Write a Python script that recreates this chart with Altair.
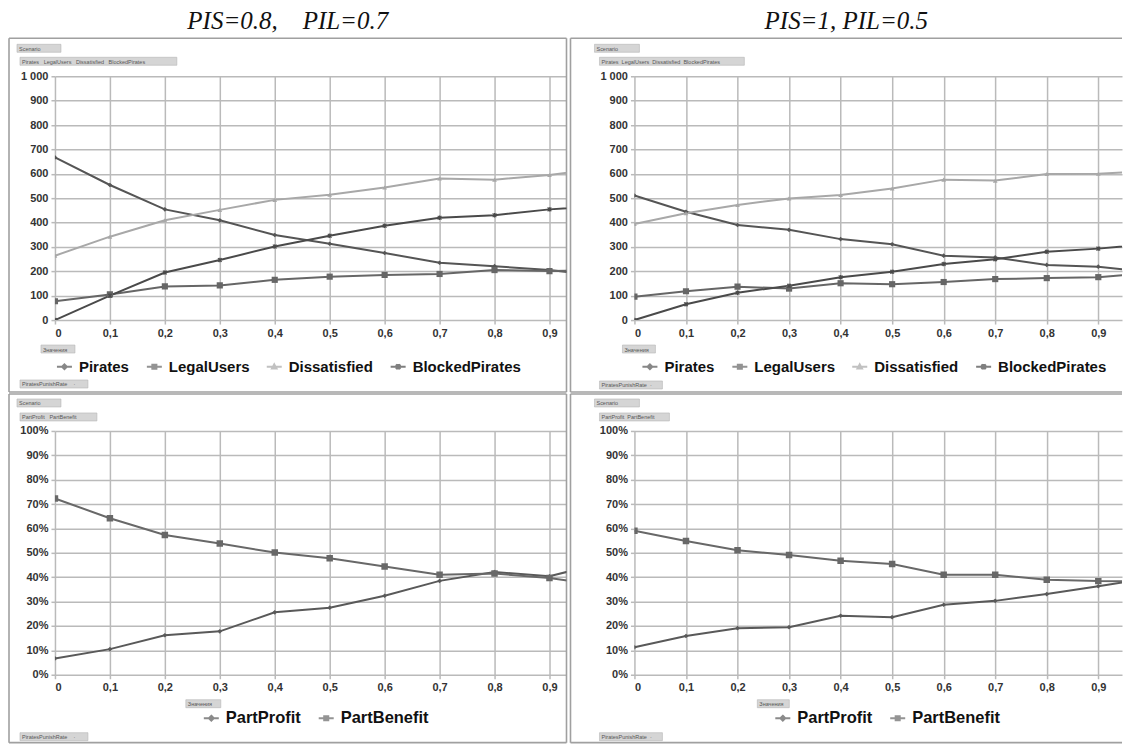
import altair as alt
import pandas as pd

# ---------------- data ----------------
rate = [0.0, 0.1, 0.2, 0.3, 0.4, 0.5, 0.6, 0.7, 0.8, 0.9, 1.0]
rate_ticks = [0.0, 0.1, 0.2, 0.3, 0.4, 0.5, 0.6, 0.7, 0.8, 0.9]
count_ticks = [0, 100, 200, 300, 400, 500, 600, 700, 800, 900, 1000]
share_ticks = [0.0, 0.1, 0.2, 0.3, 0.4, 0.5, 0.6, 0.7, 0.8, 0.9, 1.0]

column_titles = ["PIS=0.8,\u00a0\u00a0\u00a0\u00a0PIL=0.7", "PIS=1, PIL=0.5"]
count_series = ["Pirates", "LegalUsers", "Dissatisfied", "BlockedPirates"]
share_series = ["PartProfit", "PartBenefit"]

# left column: PIS=0.8, PIL=0.7
pirates_1 = [667, 554, 454, 409, 349, 313, 275, 235, 221, 205, 179]
legal_1 = [77, 105, 138, 142, 165, 178, 185, 189, 205, 201, 206]
dissat_1 = [264, 342, 409, 452, 493, 514, 544, 581, 576, 595, 625]
blocked_1 = [0, 100, 195, 246, 302, 346, 387, 420, 430, 454, 468]
profit_1 = [0.067, 0.105, 0.162, 0.178, 0.256, 0.275, 0.324, 0.385, 0.421, 0.404, 0.46]
benefit_1 = [0.723, 0.642, 0.573, 0.538, 0.501, 0.478, 0.444, 0.410, 0.415, 0.397, 0.363]

# right column: PIS=1, PIL=0.5
pirates_2 = [511, 444, 390, 370, 332, 311, 264, 257, 226, 219, 196]
legal_2 = [96, 118, 137, 129, 151, 147, 156, 168, 172, 176, 192]
dissat_2 = [394, 438, 472, 499, 513, 540, 576, 572, 599, 600, 611]
blocked_2 = [0, 65, 112, 141, 176, 198, 230, 249, 280, 293, 313]
profit_2 = [0.113, 0.159, 0.191, 0.195, 0.242, 0.236, 0.287, 0.303, 0.331, 0.363, 0.397]
benefit_2 = [0.591, 0.549, 0.511, 0.491, 0.468, 0.454, 0.410, 0.410, 0.390, 0.384, 0.383]

# ---------------- styles ----------------
FONT = "Liberation Sans"
FRAME = "#a0a0a0"
GRID = "#bababa"
count_colors = ["#555555", "#666666", "#a8a8a8", "#4a4a4a"]
share_colors = ["#595959", "#686868"]

ASTER = "M-1,-1L1,1M-1,1L1,-1M0,-1.2L0,1.2"
markers = {
    "Pirates": dict(shape="diamond", size=22, filled=True),
    "LegalUsers": dict(shape="square", size=38, filled=True),
    "Dissatisfied": dict(shape="triangle-up", size=22, filled=True),
    "BlockedPirates": dict(shape=ASTER, size=14, filled=False, strokeWidth=1.1),
    "PartProfit": dict(shape="diamond", size=22, filled=True),
    "PartBenefit": dict(shape="square", size=42, filled=True),
}
LINE = "M-1,0L1,0"
legend_paths = {
    "Pirates": LINE + "M0,-0.32L0.32,0L0,0.32L-0.32,0Z",
    "LegalUsers": LINE + "M-0.27,-0.27L0.27,-0.27L0.27,0.27L-0.27,0.27Z",
    "Dissatisfied": LINE + "M0,-0.32L0.3,0.24L-0.3,0.24Z",
    "BlockedPirates": LINE + "M-0.3,-0.3L0.3,0.3M-0.3,0.3L0.3,-0.3M0,-0.38L0,0.38",
    "PartProfit": LINE + "M0,-0.32L0.32,0L0,0.32L-0.32,0Z",
    "PartBenefit": LINE + "M-0.27,-0.27L0.27,-0.27L0.27,0.27L-0.27,0.27Z",
}

one = alt.Data(values=[{"k": 1}])


def hrule(x1, x2, y):
    return alt.Chart(one).mark_rule(color=FRAME, strokeWidth=1.6).encode(
        x=alt.value(x1), x2=alt.value(x2), y=alt.value(y))


def vrule(x, y1, y2):
    return alt.Chart(one).mark_rule(color=FRAME, strokeWidth=1.6).encode(
        x=alt.value(x), y=alt.value(y1), y2=alt.value(y2))


def button(x, y, w, label, h=8):
    rect = alt.Chart(one).mark_rect(fill="#d5d5d5", stroke="#b5b5b5", strokeWidth=0.6).encode(
        x=alt.value(x), x2=alt.value(x + w), y=alt.value(y), y2=alt.value(y + h))
    txt = alt.Chart(one).mark_text(text=label, align="left", baseline="middle", fontSize=5.5,
                                   font=FONT, color="#555555").encode(
        x=alt.value(x + 2), y=alt.value(y + h / 2 + 0.5))
    return [rect, txt]


def panel(series, arrays, colors, W, H, xmax, y_domain, y_values, y_kw,
          fl, ft, fb, right_border, buttons, lx, ly, lfont, lcols):
    rows = []
    for name, arr in zip(series, arrays):
        for xv, yv in zip(rate, arr):
            rows.append({"rate": xv, "series": name, "value": yv})
    df = pd.DataFrame(rows)

    x_enc = alt.X("rate:Q", scale=alt.Scale(domain=[0, xmax], nice=False, zero=False),
                  axis=alt.Axis(values=rate_ticks, title=None,
                                labelExpr="datum.value == 0 ? '0' : replace(format(datum.value, '.1f'), '.', ',')"))
    y_enc = alt.Y("value:Q", scale=alt.Scale(domain=y_domain, nice=False),
                  axis=alt.Axis(values=y_values, title=None, **y_kw))
    cscale = alt.Scale(domain=series, range=colors)

    layers = []
    # frame
    layers.append(hrule(fl, W, ft))
    layers.append(hrule(fl, W, fb))
    layers.append(vrule(fl, ft, fb))
    if right_border:
        layers.append(vrule(W, ft, fb))
    for b in buttons:
        layers.extend(button(*b))

    base = alt.Chart(df)

    # legend-only layer (no rows drawn) placed first so its legend wins the merge
    leg = alt.Legend(orient="none", legendX=lx, legendY=ly, direction="horizontal",
                     columns=lcols, title=None, labelFont=FONT, labelFontSize=lfont,
                     labelFontWeight="bold", labelColor="#111111", symbolSize=225,
                     symbolStrokeWidth=2, labelOffset=6, columnPadding=13)
    layers.append(base.transform_filter("false").mark_point().encode(
        x=x_enc, y=y_enc,
        color=alt.Color("series:N", scale=cscale, legend=leg),
        shape=alt.Shape("series:N", scale=alt.Scale(domain=series,
                                                    range=[legend_paths[s] for s in series]),
                        legend=leg)))

    layers.append(base.mark_line(strokeWidth=2, clip=True).encode(
        x=x_enc, y=y_enc, color=alt.Color("series:N", scale=cscale),
        detail="series:N"))
    for name in series:
        m = markers[name]
        layers.append(base.transform_filter(alt.datum.series == name).mark_point(
            clip=True, opacity=1, **m).encode(
            x=x_enc, y=y_enc, color=alt.Color("series:N", scale=cscale)))

    return alt.layer(*layers).properties(width=W, height=H)


H_TOP = 244
H_BOT = 244
W_L = 512
W_R = 488

count_kw = dict(labelExpr="datum.value == 1000 ? '1 000' : datum.label")
share_kw = dict(format=".0%")

tl = panel(count_series, [pirates_1, legal_1, dissat_1, blocked_1], count_colors,
           W_L, H_TOP, 0.931, [0, 1000], count_ticks, count_kw,
           -46, -38, H_TOP + 72, True,
           [(-38, -32, 44, "Scenario"),
            (-35, -19, 157, "Pirates\u00a0\u00a0\u00a0LegalUsers\u00a0\u00a0\u00a0Dissatisfied\u00a0\u00a0\u00a0BlockedPirates"),
            (-14, H_TOP + 25, 34, "\u0417\u043d\u0430\u0447\u0435\u043d\u0438\u044f"),
            (-35, H_TOP + 60, 68, "PiratesPunishRate\u00a0\u00a0\u00a0\u00a0\u00b7")],
           1, H_TOP + 38, 15, 4)

tr = panel(count_series, [pirates_2, legal_2, dissat_2, blocked_2], count_colors,
           W_R, H_TOP, 0.946, [0, 1000], count_ticks, count_kw,
           -64, -38, H_TOP + 72, False,
           [(-40, -32, 45, "Scenario"),
            (-35, -19, 145, "Pirates\u00a0\u00a0LegalUsers\u00a0\u00a0Dissatisfied\u00a0\u00a0BlockedPirates"),
            (-12, H_TOP + 25, 33, "\u0417\u043d\u0430\u0447\u0435\u043d\u0438\u044f"),
            (-35, H_TOP + 61, 63, "PiratesPunishRate\u00a0\u00a0\u00b7")],
           7, H_TOP + 38, 15, 4)

bl = panel(share_series, [profit_1, benefit_1], share_colors,
           W_L, H_BOT, 0.931, [0, 1], share_ticks, share_kw,
           -46, -37, H_BOT + 68, True,
           [(-38, -32, 44, "Scenario"),
            (-35, -18, 77, "PartProfit\u00a0\u00a0\u00a0PartBenefit"),
            (131, H_BOT + 25, 35, "\u0417\u043d\u0430\u0447\u0435\u043d\u0438\u044f"),
            (-35, H_BOT + 58, 68, "PiratesPunishRate\u00a0\u00a0\u00a0\u00a0\u00b7")],
           148, H_BOT + 35, 16.5, 2)

br = panel(share_series, [profit_2, benefit_2], share_colors,
           W_R, H_BOT, 0.946, [0, 1], share_ticks, share_kw,
           -64, -37, H_BOT + 68, False,
           [(-40, -32, 45, "Scenario"),
            (-35, -18, 70, "PartProfit\u00a0\u00a0PartBenefit"),
            (123, H_BOT + 25, 32, "\u0417\u043d\u0430\u0447\u0435\u043d\u0438\u044f"),
            (-35, H_BOT + 58, 63, "PiratesPunishRate\u00a0\u00a0\u00b7")],
           140, H_BOT + 35, 16.5, 2)


def col_title(t):
    return alt.TitleParams(text=t, font="Liberation Serif", fontStyle="italic",
                           fontWeight="normal", fontSize=25, color="#111111",
                           anchor="middle", offset=4)


def indep(c):
    return c.resolve_scale(color="independent", shape="independent").resolve_legend(
        color="independent", shape="independent")


left = indep(alt.vconcat(tl, bl, spacing=0)).properties(title=col_title(column_titles[0]))
right = indep(alt.vconcat(tr, br, spacing=0)).properties(title=col_title(column_titles[1]))

chart = indep(alt.hconcat(left, right, spacing=2)).properties(padding=0).configure_view(
    stroke=None
).configure_axis(
    labelFont=FONT, labelFontSize=11, labelFontWeight="bold", labelColor="#333333",
    gridColor=GRID, gridWidth=1.5, domain=False, tickColor=GRID,
    tickWidth=1.5, tickSize=4, labelPadding=3
)

chart.save("out.html", embed_options={"renderer": "svg", "actions": False})
